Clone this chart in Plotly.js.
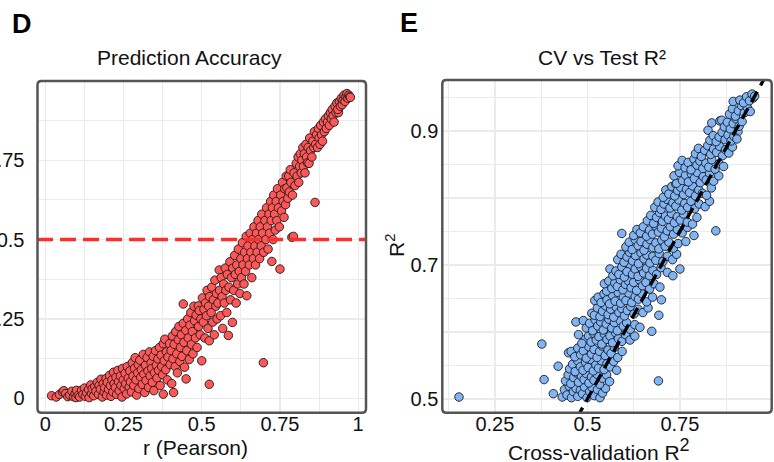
<!DOCTYPE html>
<html>
<head>
<meta charset="utf-8">
<script src="https://cdn.plot.ly/plotly-3.0.1.min.js"></script>
<style>html,body{margin:0;padding:0;background:#fff;}#chart{width:774px;height:462px;}</style>
</head>
<body>
<div id="chart"></div>
<script>
// ---------- Panel D: Pearson r vs R² ----------
const pearsonPairs = [
[0.020,0.008],[0.035,0.004],[0.045,0.012],[0.055,0.020],[0.059,0.024],[0.065,0.015],[0.072,0.005],[0.078,0.010],[0.085,0.022],[0.090,0.005],[0.095,0.014],[0.100,0.025],[0.098,0.002],[0.105,0.009],
[0.110,0.004],[0.116,0.025],[0.120,0.012],[0.125,0.032],[0.128,0.006],[0.132,0.018],[0.138,0.028],[0.140,0.002],[0.145,0.042],[0.148,0.015],[0.150,0.030],
[0.155,0.008],[0.158,0.036],[0.162,0.022],[0.166,0.050],[0.170,0.012],[0.172,0.040],[0.176,0.028],[0.178,0.060],[0.182,0.004],[0.185,0.046],[0.188,0.020],[0.190,0.034],[0.194,0.062],[0.196,0.010],[0.198,0.050],
[0.202,0.028],[0.205,0.072],[0.208,0.040],[0.210,0.006],[0.213,0.058],[0.216,0.020],[0.218,0.082],[0.220,0.046],[0.224,0.034],[0.226,0.066],[0.228,0.012],[0.232,0.088],[0.234,0.052],[0.236,0.024],[0.240,0.070],[0.242,0.040],[0.245,0.004],[0.247,0.094],[0.249,0.058],
[0.252,0.030],[0.255,0.078],[0.257,0.046],[0.260,0.014],[0.262,0.100],[0.265,0.064],[0.268,0.036],[0.270,0.086],[0.272,0.052],[0.275,0.020],[0.278,0.112],[0.280,0.070],[0.283,0.040],[0.285,0.094],[0.287,0.128],[0.290,0.058],[0.292,0.010],[0.295,0.080],[0.297,0.106],[0.299,0.030],
[0.302,0.120],[0.305,0.066],[0.307,0.090],[0.310,0.044],[0.313,0.138],[0.315,0.076],[0.318,0.018],[0.320,0.104],[0.322,0.056],[0.325,0.128],[0.328,0.086],[0.330,0.034],[0.333,0.146],[0.335,0.070],[0.338,0.112],[0.340,0.094],[0.342,0.050],[0.345,0.132],[0.347,0.024],[0.349,0.080],
[0.352,0.150],[0.355,0.104],[0.357,0.064],[0.360,0.124],[0.362,0.088],[0.365,0.160],[0.367,0.040],[0.370,0.136],[0.372,0.100],[0.375,0.074],[0.377,0.172],[0.380,0.118],[0.382,0.186],[0.385,0.090],[0.387,0.146],[0.390,0.058],[0.392,0.130],[0.377,0.013],[0.397,0.172],[0.399,0.106],
[0.402,0.150],[0.404,0.046],[0.406,0.196],[0.408,0.124],[0.410,0.018],[0.412,0.170],[0.415,0.100],[0.417,0.210],[0.420,0.140],[0.422,0.080],[0.425,0.184],[0.427,0.226],[0.430,0.116],[0.432,0.160],[0.435,0.200],[0.437,0.132],[0.441,0.297],[0.441,0.236],[0.443,0.176],[0.445,0.098],[0.450,0.061],[0.449,0.214],
[0.452,0.150],[0.455,0.250],[0.457,0.190],[0.460,0.122],[0.462,0.230],[0.465,0.270],[0.467,0.170],[0.470,0.210],[0.472,0.140],[0.475,0.290],[0.477,0.244],[0.480,0.190],[0.482,0.262],[0.485,0.160],[0.489,0.291],[0.490,0.226],[0.492,0.276],[0.495,0.200],[0.497,0.250],[0.500,0.118],
[0.502,0.316],[0.505,0.240],[0.507,0.280],[0.510,0.190],[0.512,0.300],[0.515,0.260],[0.517,0.340],[0.520,0.220],[0.522,0.290],[0.524,0.044],[0.525,0.320],[0.524,0.181],[0.530,0.270],[0.532,0.350],[0.535,0.240],[0.537,0.310],[0.540,0.200],[0.542,0.372],[0.545,0.290],[0.547,0.330],[0.549,0.250],
[0.552,0.300],[0.556,0.404],[0.557,0.340],[0.560,0.260],[0.562,0.380],[0.565,0.320],[0.567,0.220],[0.570,0.360],[0.572,0.300],[0.575,0.410],[0.577,0.340],[0.580,0.270],[0.582,0.390],[0.585,0.198],[0.587,0.350],[0.590,0.430],[0.592,0.310],[0.595,0.380],[0.598,0.239],[0.599,0.410],
[0.602,0.340],[0.605,0.450],[0.607,0.390],[0.610,0.300],[0.612,0.420],[0.615,0.360],[0.617,0.470],[0.620,0.400],[0.622,0.330],[0.625,0.440],[0.627,0.380],[0.630,0.490],[0.632,0.420],[0.635,0.360],[0.637,0.460],[0.640,0.400],[0.642,0.510],[0.644,0.323],[0.646,0.440],[0.648,0.480],
[0.652,0.420],[0.655,0.520],[0.657,0.460],[0.660,0.380],[0.662,0.500],[0.665,0.440],[0.667,0.540],[0.670,0.480],[0.672,0.420],[0.675,0.520],[0.677,0.460],[0.680,0.560],[0.682,0.500],[0.685,0.440],[0.687,0.540],[0.690,0.480],[0.692,0.580],[0.695,0.520],[0.697,0.112],[0.698,0.460],
[0.702,0.560],[0.705,0.500],[0.707,0.600],[0.710,0.540],[0.712,0.470],[0.715,0.580],[0.717,0.520],[0.720,0.620],[0.722,0.560],[0.724,0.431],[0.726,0.600],[0.728,0.500],[0.730,0.640],[0.733,0.580],[0.735,0.530],[0.738,0.620],[0.740,0.560],[0.742,0.660],[0.745,0.600],[0.748,0.540],[0.750,0.407],
[0.752,0.640],[0.755,0.590],[0.758,0.680],[0.760,0.620],[0.763,0.570],[0.765,0.660],[0.768,0.610],[0.770,0.700],[0.772,0.663],[0.775,0.630],[0.778,0.700],[0.780,0.650],[0.783,0.720],[0.785,0.680],[0.788,0.507],[0.790,0.640],[0.793,0.510],[0.795,0.710],[0.798,0.670],
[0.802,0.740],[0.805,0.700],[0.808,0.760],[0.810,0.680],[0.813,0.730],[0.815,0.770],[0.818,0.710],[0.820,0.750],[0.823,0.790],[0.825,0.730],[0.828,0.770],[0.830,0.710],[0.833,0.800],[0.835,0.760],[0.838,0.742],[0.840,0.790],[0.843,0.740],[0.845,0.820],[0.848,0.780],
[0.852,0.760],[0.855,0.810],[0.858,0.790],[0.860,0.840],[0.862,0.617],[0.864,0.800],[0.867,0.830],[0.870,0.790],[0.873,0.850],[0.875,0.820],[0.878,0.800],[0.880,0.860],[0.883,0.830],[0.886,0.810],[0.889,0.870],[0.892,0.840],[0.895,0.880],[0.898,0.850],
[0.902,0.870],[0.905,0.890],[0.908,0.860],[0.911,0.900],[0.914,0.880],[0.917,0.910],[0.920,0.890],[0.923,0.870],[0.926,0.920],[0.929,0.900],[0.932,0.930],[0.937,0.900],[0.935,0.910],[0.940,0.935],[0.943,0.920],[0.946,0.945],[0.949,0.925],
[0.952,0.940],[0.955,0.955],[0.958,0.935],[0.961,0.950],[0.964,0.960],[0.967,0.945],[0.970,0.955],[0.973,0.950],[0.975,0.948]
];
const accuracyThreshold = 0.5;

// ---------- Panel E: cross-validation R² vs test R² ----------
const cvTestPairs = [
[0.432,0.503],[0.438,0.514],[0.445,0.506],[0.451,0.519],[0.457,0.502],[0.462,0.511],[0.469,0.516],[0.474,0.504],[0.481,0.513],[0.487,0.508],[0.492,0.518],[0.499,0.502],[0.506,0.511],[0.513,0.517],[0.519,0.505],[0.527,0.514],[0.534,0.502],[0.541,0.509],[0.549,0.516],[0.153,0.503],[0.408,0.508],
[0.441,0.527],[0.448,0.536],[0.455,0.523],[0.463,0.532],[0.470,0.539],[0.476,0.525],[0.484,0.534],[0.491,0.529],[0.497,0.538],[0.504,0.524],[0.511,0.533],[0.518,0.528],[0.526,0.537],[0.533,0.522],[0.541,0.531],[0.552,0.536],[0.560,0.526],[0.383,0.529],[0.692,0.527],
[0.452,0.545],[0.460,0.552],[0.467,0.541],[0.474,0.557],[0.481,0.548],[0.488,0.543],[0.495,0.555],[0.502,0.547],[0.509,0.559],[0.516,0.542],[0.523,0.551],[0.530,0.546],[0.538,0.557],[0.545,0.544],[0.553,0.553],[0.562,0.548],[0.571,0.556],[0.579,0.543],[0.421,0.549],
[0.449,0.569],[0.456,0.571],[0.466,0.563],[0.474,0.576],[0.482,0.566],[0.489,0.572],[0.497,0.561],[0.504,0.578],[0.511,0.567],[0.518,0.574],[0.526,0.562],[0.533,0.571],[0.540,0.579],[0.548,0.565],[0.556,0.573],[0.564,0.568],[0.573,0.577],[0.582,0.562],[0.594,0.571],
[0.377,0.582],[0.494,0.589],[0.476,0.596],[0.485,0.583],[0.503,0.594],[0.510,0.585],[0.517,0.598],[0.524,0.588],[0.531,0.593],[0.539,0.582],[0.546,0.597],[0.553,0.589],[0.561,0.594],[0.568,0.584],[0.576,0.599],[0.584,0.590],[0.593,0.586],[0.603,0.596],[0.615,0.588],[0.628,0.594],
[0.469,0.615],[0.489,0.617],[0.497,0.606],[0.506,0.613],[0.514,0.602],[0.521,0.618],[0.528,0.609],[0.536,0.615],[0.543,0.603],[0.551,0.612],[0.558,0.619],[0.566,0.606],[0.573,0.614],[0.581,0.602],[0.589,0.617],[0.597,0.609],[0.606,0.614],[0.616,0.604],[0.628,0.611],[0.642,0.607],[0.674,0.601],
[0.512,0.628],[0.519,0.625],[0.527,0.636],[0.534,0.623],[0.541,0.631],[0.549,0.639],[0.556,0.626],[0.563,0.634],[0.571,0.622],[0.578,0.637],[0.585,0.629],[0.593,0.635],[0.600,0.624],[0.608,0.632],[0.617,0.638],[0.626,0.627],[0.637,0.634],[0.650,0.629],[0.664,0.636],[0.693,0.625],
[0.520,0.647],[0.529,0.652],[0.537,0.644],[0.545,0.657],[0.553,0.648],[0.560,0.642],[0.568,0.655],[0.575,0.646],[0.583,0.659],[0.590,0.643],[0.597,0.652],[0.604,0.647],[0.612,0.658],[0.620,0.644],[0.629,0.653],[0.638,0.649],[0.648,0.657],[0.660,0.645],[0.676,0.652],[0.700,0.648],
[0.552,0.661],[0.546,0.672],[0.558,0.676],[0.566,0.665],[0.574,0.673],[0.581,0.668],[0.589,0.678],[0.596,0.663],[0.603,0.671],[0.611,0.676],[0.618,0.666],[0.625,0.674],[0.633,0.662],[0.641,0.678],[0.649,0.669],[0.658,0.674],[0.668,0.664],[0.680,0.672],[0.696,0.667],
[0.561,0.694],[0.615,0.699],[0.750,0.694],[0.569,0.684],[0.577,0.691],[0.585,0.686],[0.593,0.697],[0.600,0.682],[0.607,0.690],[0.622,0.686],[0.629,0.694],[0.637,0.683],[0.644,0.697],[0.652,0.688],[0.660,0.695],[0.668,0.684],[0.677,0.692],[0.687,0.686],[0.699,0.696],[0.716,0.689],[0.731,0.684],
[0.582,0.708],[0.591,0.716],[0.599,0.704],[0.607,0.712],[0.614,0.719],[0.622,0.706],[0.630,0.714],[0.638,0.702],[0.645,0.718],[0.653,0.709],[0.661,0.715],[0.669,0.703],[0.677,0.713],[0.685,0.707],[0.694,0.717],[0.704,0.705],[0.716,0.713],[0.730,0.708],[0.741,0.716],
[0.604,0.727],[0.613,0.734],[0.621,0.723],[0.629,0.738],[0.637,0.729],[0.645,0.735],[0.653,0.722],[0.661,0.731],[0.669,0.738],[0.677,0.726],[0.685,0.733],[0.693,0.724],[0.701,0.737],[0.710,0.728],[0.720,0.734],[0.732,0.725],[0.745,0.732],[0.766,0.735],
[0.593,0.747],[0.625,0.744],[0.634,0.753],[0.643,0.748],[0.651,0.757],[0.660,0.743],[0.668,0.752],[0.676,0.746],[0.684,0.758],[0.692,0.749],[0.700,0.755],[0.708,0.742],[0.716,0.751],[0.724,0.757],[0.733,0.746],[0.743,0.753],[0.756,0.748],[0.770,0.756],[0.788,0.744],[0.847,0.751],
[0.662,0.766],[0.671,0.774],[0.679,0.762],[0.687,0.771],[0.695,0.778],[0.703,0.765],[0.711,0.773],[0.719,0.768],[0.727,0.777],[0.735,0.763],[0.743,0.772],[0.751,0.767],[0.760,0.776],[0.770,0.764],[0.784,0.761],[0.796,0.771],
[0.682,0.786],[0.691,0.794],[0.699,0.783],[0.707,0.791],[0.715,0.798],[0.723,0.785],[0.731,0.793],[0.739,0.788],[0.747,0.797],[0.755,0.782],[0.763,0.792],[0.771,0.786],[0.780,0.795],[0.790,0.784],[0.802,0.791],[0.818,0.787],[0.830,0.795],
[0.705,0.801],[0.712,0.812],[0.720,0.806],[0.728,0.817],[0.736,0.803],[0.739,0.821],[0.744,0.811],[0.752,0.816],[0.760,0.805],[0.768,0.813],[0.776,0.808],[0.784,0.818],[0.792,0.803],[0.801,0.812],[0.811,0.807],[0.822,0.804],[0.835,0.815],
[0.741,0.822],[0.734,0.833],[0.749,0.838],[0.757,0.826],[0.765,0.834],[0.773,0.824],[0.781,0.836],[0.789,0.829],[0.797,0.838],[0.805,0.823],[0.813,0.832],[0.821,0.827],[0.830,0.837],[0.841,0.825],[0.855,0.833],
[0.745,0.848],[0.756,0.856],[0.764,0.845],[0.772,0.853],[0.780,0.842],[0.788,0.858],[0.796,0.849],[0.804,0.855],[0.812,0.844],[0.820,0.852],[0.828,0.846],[0.836,0.857],[0.845,0.843],[0.856,0.851],[0.868,0.847],
[0.792,0.866],[0.800,0.874],[0.808,0.862],[0.817,0.871],[0.825,0.878],[0.833,0.865],[0.841,0.873],[0.849,0.868],[0.857,0.877],[0.865,0.863],[0.873,0.872],[0.882,0.867],[0.892,0.876],
[0.826,0.901],[0.907,0.899],[0.831,0.886],[0.840,0.893],[0.848,0.884],[0.856,0.891],[0.864,0.898],[0.872,0.887],[0.880,0.894],[0.888,0.885],[0.896,0.892],[0.904,0.888],
[0.836,0.912],[0.858,0.915],[0.863,0.916],[0.870,0.906],[0.878,0.913],[0.886,0.903],[0.894,0.911],[0.902,0.918],[0.910,0.907],[0.918,0.914],
[0.884,0.925],[0.892,0.933],[0.900,0.922],[0.908,0.930],[0.916,0.938],[0.924,0.927],[0.932,0.935],[0.940,0.929],
[0.894,0.944],[0.948,0.949],[0.912,0.946],[0.922,0.942],[0.930,0.951],[0.938,0.945],[0.945,0.955],[0.952,0.952]
];
const identityLine = [0, 1];

// tick values / labels
const dTickVals = [0, 0.25, 0.5, 0.75, 1];
const dTickText = ["0", "0.25", "0.5", "0.75", "1"];
const dYTickVals = [0, 0.25, 0.5, 0.75];
const dYTickText = ["0", "0.25", "0.5", "0.75"];
const dMinor = [0.125, 0.375, 0.625, 0.875];
const eXTickVals = [0.25, 0.5, 0.75];
const eXTickText = ["0.25", "0.5", "0.75"];
const eXMinor = [0.125, 0.375, 0.625, 0.875];
const eYTickVals = [0.5, 0.7, 0.9];
const eYTickText = ["0.5", "0.7", "0.9"];
const eYMinor = [0.55, 0.6, 0.65, 0.75, 0.8, 0.85, 0.95];

const W = 774, H = 462;
const px = v => v / W, py = v => 1 - v / H;
const FONT = "Liberation Sans, Arial, sans-serif";
const gridCol = "#EBEBEB";

const traces = [
  {type: "scatter", mode: "markers", xaxis: "x", yaxis: "y",
   x: pearsonPairs.map(p => p[0]), y: pearsonPairs.map(p => p[1]),
   marker: {size: 8.5, color: "#FF5757", line: {color: "#1a1a1a", width: 0.9}}, hoverinfo: "skip"},
  {type: "scatter", mode: "lines", xaxis: "x", yaxis: "y",
   x: [-0.1, 1.1], y: [accuracyThreshold, accuracyThreshold],
   line: {color: "#FF2E2E", width: 3.5, dash: "16px,7px"}, hoverinfo: "skip"},
  {type: "scatter", mode: "markers", xaxis: "x2", yaxis: "y2",
   x: cvTestPairs.map(p => p[0]), y: cvTestPairs.map(p => p[1]),
   marker: {size: 8.5, color: "#80B4F5", line: {color: "#1a1a1a", width: 0.9}}, hoverinfo: "skip"},
  {type: "scatter", mode: "lines", xaxis: "x2", yaxis: "y2",
   x: identityLine, y: identityLine,
   line: {color: "#000000", width: 3.4, dash: "12px,7px"}, hoverinfo: "skip"}
];

function axis(domain, range, tv, tt, minorVals, extra) {
  return Object.assign({
    domain: domain, range: range, tickmode: "array", tickvals: tv, ticktext: tt,
    showgrid: true, gridcolor: gridCol, gridwidth: 1.3, zeroline: false, showline: false,
    ticks: "", ticklen: 0, tickfont: {family: FONT, size: 20, color: "#111"},
    minor: {tickmode: "array", tickvals: minorVals, showgrid: true, gridcolor: gridCol, gridwidth: 1.1, ticks: ""},
    fixedrange: true
  }, extra || {});
}

function roundRect(x0, y0, x1, y1, r) {
  const X = v => px(v), Y = v => py(v);
  const rx = r / W, ry = r / H;
  return `M ${X(x0)+rx},${Y(y0)} L ${X(x1)-rx},${Y(y0)} Q ${X(x1)},${Y(y0)} ${X(x1)},${Y(y0)-ry} ` +
         `L ${X(x1)},${Y(y1)+ry} Q ${X(x1)},${Y(y1)} ${X(x1)-rx},${Y(y1)} L ${X(x0)+rx},${Y(y1)} ` +
         `Q ${X(x0)},${Y(y1)} ${X(x0)},${Y(y1)+ry} L ${X(x0)},${Y(y0)-ry} Q ${X(x0)},${Y(y0)} ${X(x0)+rx},${Y(y0)} Z`;
}

const layout = {
  width: W, height: H, margin: {l: 0, r: 0, t: 0, b: 0},
  paper_bgcolor: "#fff", plot_bgcolor: "#fff", showlegend: false,
  font: {family: FONT, color: "#111"},
  xaxis: axis([px(37.5), px(366)], [-0.025, 1.025], dTickVals, dTickText, dMinor, {anchor: "y", ticklabelstandoff: -3}),
  yaxis: axis([py(412.7), py(81)], [-0.0455, 0.9995], dYTickVals, dYTickText, dMinor, {anchor: "x", ticklabelstandoff: 12}),
  xaxis2: axis([px(442.3), px(771.7)], [0.108, 0.998], eXTickVals, eXTickText, eXMinor, {anchor: "y2", ticklabelstandoff: -3}),
  yaxis2: axis([py(412.7), py(80)], [0.4796, 0.976], eYTickVals, eYTickText, eYMinor, {anchor: "x2", ticklabelstandoff: 3}),
  shapes: [
    {type: "path", xref: "paper", yref: "paper", path: roundRect(37.5, 81, 366, 412.7, 4), line: {color: "#555555", width: 2.5}, layer: "above"},
    {type: "path", xref: "paper", yref: "paper", path: roundRect(442.3, 80, 771.7, 412.7, 4), line: {color: "#555555", width: 2.5}, layer: "above"}
  ],
  annotations: [
    {text: "<b>D</b>", x: px(10), y: py(23.7), xref: "paper", yref: "paper", xanchor: "left", yanchor: "middle", showarrow: false, font: {family: FONT, size: 27, color: "#000"}},
    {text: "<b>E</b>", x: px(397.5), y: py(23.2), xref: "paper", yref: "paper", xanchor: "left", yanchor: "middle", showarrow: false, font: {family: FONT, size: 27, color: "#000"}},
    {text: "Prediction Accuracy", x: px(189), y: py(57.5), xref: "paper", yref: "paper", xanchor: "center", yanchor: "middle", showarrow: false, font: {family: FONT, size: 21, color: "#111"}},
    {text: "CV vs Test R²", x: px(601.7), y: py(58), xref: "paper", yref: "paper", xanchor: "center", yanchor: "middle", showarrow: false, font: {family: FONT, size: 21, color: "#111"}},
    {text: "r (Pearson)", x: px(195.8), y: py(447), xref: "paper", yref: "paper", xanchor: "center", yanchor: "middle", showarrow: false, font: {family: FONT, size: 21, color: "#111"}},
    {text: "Cross-validation R<sup><span style='font-size:18px'>2</span></sup>", x: px(599), y: py(449), xref: "paper", yref: "paper", xanchor: "center", yanchor: "middle", showarrow: false, font: {family: FONT, size: 21, color: "#111"}},
    {text: "R<sup>2</sup>", x: px(395), y: py(246), xref: "paper", yref: "paper", xanchor: "center", yanchor: "middle", textangle: -90, showarrow: false, font: {family: FONT, size: 21, color: "#111"}}
  ]
};

Plotly.newPlot("chart", traces, layout, {displayModeBar: false, staticPlot: true});
</script>
</body>
</html>
